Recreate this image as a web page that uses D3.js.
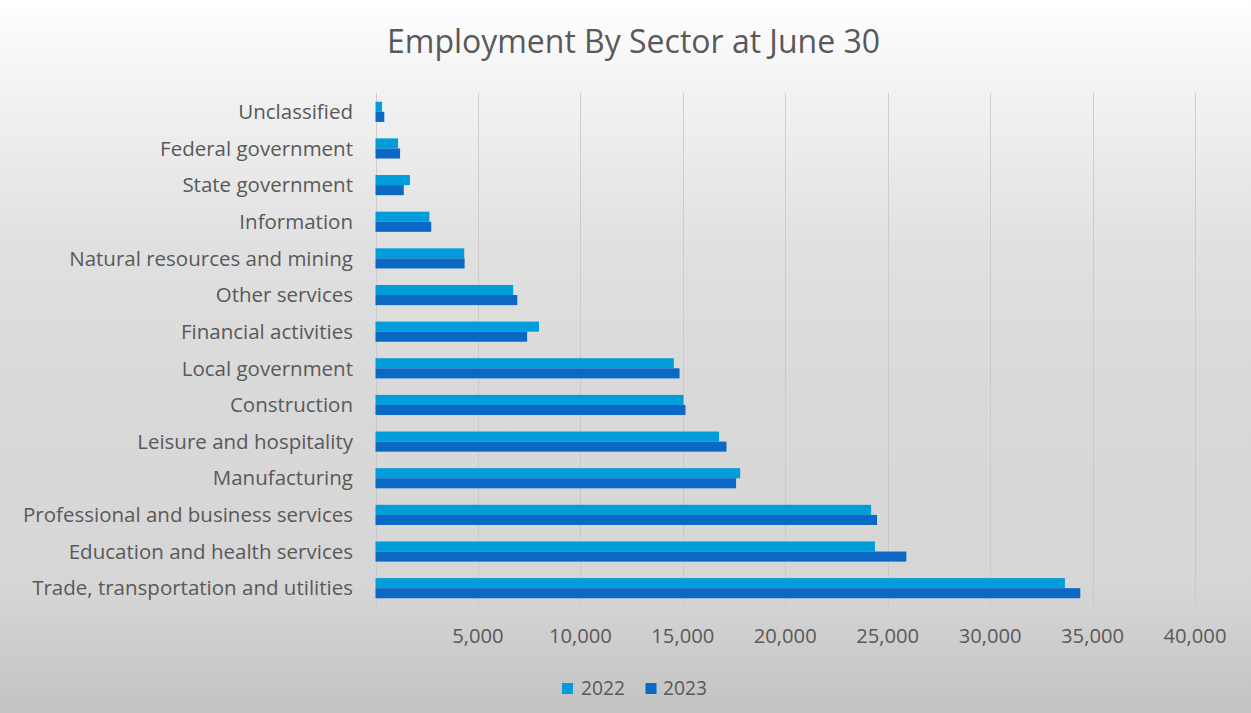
<!DOCTYPE html>
<html><head><meta charset="utf-8">
<script src="https://cdn.jsdelivr.net/npm/d3@7"></script>
<style>html,body{margin:0;padding:0;overflow:hidden;background:#fff}</style>
</head><body>
<svg id="chart" width="1251" height="713"></svg>
<script>
const categories = ["Unclassified","Federal government","State government","Information","Natural resources and mining","Other services","Financial activities","Local government","Construction","Leisure and hospitality","Manufacturing","Professional and business services","Education and health services","Trade, transportation and utilities"];
const series = ["2022","2023"];
const values2022 = [320,1100,1680,2630,4330,6720,7980,14560,15030,16770,17800,24190,24380,33650];
const values2023 = [430,1200,1380,2720,4350,6920,7400,14840,15130,17130,17600,24480,25910,34400];
const tickValues = [5000,10000,15000,20000,25000,30000,35000,40000];
const title = "Employment By Sector at June 30";

const W = 1251, H = 713;
const colors = {"2022":"#019ddb","2023":"#0b69c5"};
const font = "'Open Sans', 'Noto Sans', sans-serif";
const textColor = "#595959";

const svg = d3.select("#chart");
const defs = svg.append("defs");
const g = defs.append("linearGradient").attr("id","bg").attr("x1",0).attr("y1",0).attr("x2",0).attr("y2",1);
[[0,"#ffffff"],[0.12,"#f3f3f3"],[0.35,"#e0e0e0"],[0.55,"#d9d9d9"],[0.82,"#d6d6d6"],[1,"#c3c3c3"]].forEach(([o,c])=>g.append("stop").attr("offset",o).attr("stop-color",c));
svg.append("rect").attr("width",W).attr("height",H).attr("fill","url(#bg)");

const x = d3.scaleLinear().domain([0,40000]).range([375.5,1195]);
const y = d3.scaleBand().domain(categories).range([93.5,606.5]).paddingInner(0.45).paddingOuter(0.225);
const ys = d3.scaleBand().domain(series).range([0,y.bandwidth()]);

// gridlines
svg.append("g").selectAll("line").data([0].concat(tickValues)).join("line")
  .attr("x1",d=>Math.round(x(d))+0.5).attr("x2",d=>Math.round(x(d))+0.5)
  .attr("y1",93).attr("y2",606.5)
  .attr("stroke","#c4c4c4").attr("stroke-opacity",0.75).attr("stroke-width",1);

// bars
const data = categories.map((c,i)=>({c, v:{"2022":values2022[i],"2023":values2023[i]}}));
const grp = svg.append("g").selectAll("g").data(data).join("g").attr("transform",d=>`translate(0,${y(d.c)})`);
grp.selectAll("rect").data(d=>series.map(s=>({s,v:d.v[s]}))).join("rect")
  .attr("x",x(0)).attr("y",d=>ys(d.s)).attr("height",ys.bandwidth())
  .attr("width",d=>x(d.v)-x(0)).attr("fill",d=>colors[d.s]);

function fit(sel, sampleText, targetW){
  const t = svg.append("text").attr("font-family",font).attr("font-size",100).text(sampleText);
  const w = t.node().getComputedTextLength(); t.remove();
  const fs = 100*targetW/w;
  sel.attr("font-size",fs);
  return fs;
}

// y labels
const yl = svg.append("g").selectAll("text").data(categories).join("text")
  .attr("x",353).attr("y",d=>y(d)+y.bandwidth()/2).attr("dy","0.35em")
  .attr("text-anchor","end").attr("font-family",font).attr("fill",textColor).text(d=>d);
fit(yl,"Trade, transportation and utilities",321);

// x axis tick labels
const xl = svg.append("g").selectAll("text").data(tickValues).join("text")
  .attr("x",d=>x(d)).attr("y",636).attr("dy","0.35em").attr("text-anchor","middle")
  .attr("font-family",font).attr("fill",textColor).text(d=>d3.format(",")(d));
fit(xl,"40,000",63);

// title
const tt = svg.append("text").attr("x",633.5).attr("y",42).attr("dy","0.35em").attr("text-anchor","middle")
  .attr("font-family",font).attr("fill",textColor).text(title);
fit(tt,title,493);

// legend
const leg = svg.append("g");
const legItems = [{s:"2022",sx:562,tx:581},{s:"2023",sx:645.5,tx:663}];
leg.selectAll("rect").data(legItems).join("rect").attr("x",d=>d.sx).attr("y",683).attr("width",11).attr("height",11).attr("fill",d=>colors[d.s]);
const lt = leg.selectAll("text").data(legItems).join("text").attr("x",d=>d.tx).attr("y",688.5).attr("dy","0.35em")
  .attr("font-family",font).attr("fill",textColor).text(d=>d.s);
fit(lt,"2022",44);
</script>
</body></html>
